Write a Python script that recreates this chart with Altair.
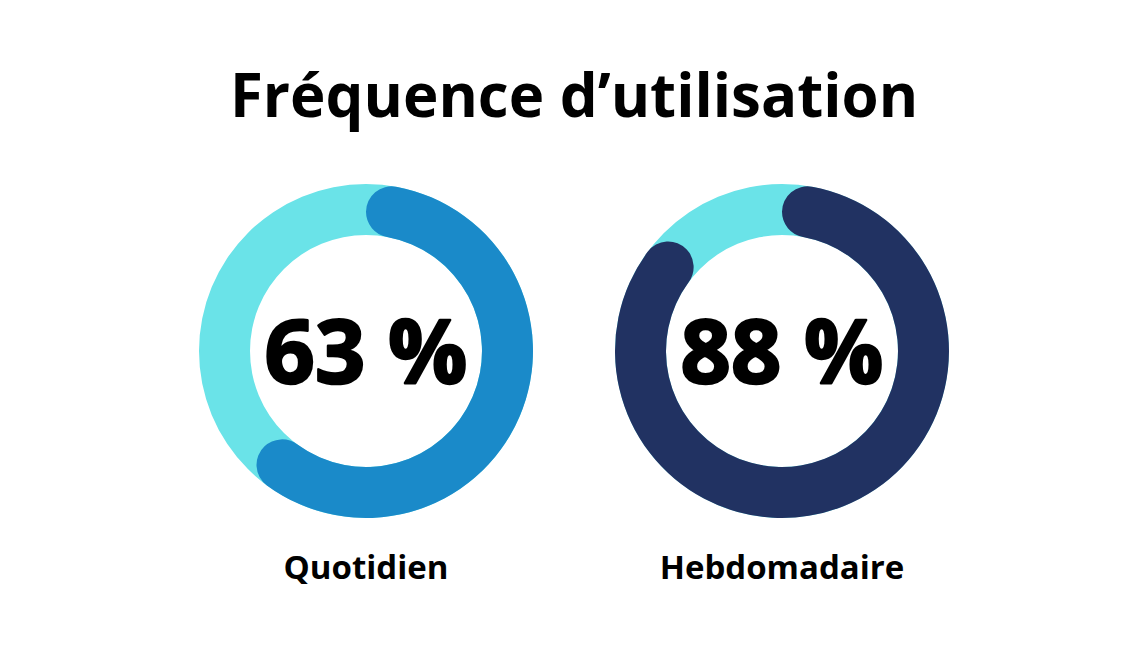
import altair as alt
import pandas as pd

# ---- data ----
categories = ["Quotidien", "Hebdomadaire"]
shares = [0.63, 0.88]
share_labels = ["63 %", "88 %"]
arc_colors = ["#1a8ac9", "#213262"]
track_color = "#6ae3e8"
title_text = "Fréquence d’utilisation"

df = pd.DataFrame({
    "cat": categories,
    "start": [0.0] * len(categories),
    "end_full": [1.0] * len(categories),
    "share": shares,
    "label": share_labels,
})

W, H = 1148, 646
x_enc = alt.X("cat:N", scale=alt.Scale(type="point", domain=categories, range=[366, 782], padding=0), axis=None)
theta_scale = alt.Scale(domain=[0, 1], range=[0, 6.283185307179586])

base = alt.Chart(df)

track = base.mark_arc(innerRadius=116, outerRadius=167, color=track_color).encode(
    x=x_enc,
    y=alt.value(351),
    theta=alt.Theta("start:Q", scale=theta_scale, stack=None),
    theta2="end_full:Q",
)

progress = base.mark_arc(innerRadius=116, outerRadius=167, cornerRadius=25.5).encode(
    x=x_enc,
    y=alt.value(351),
    theta=alt.Theta("start:Q", scale=theta_scale, stack=None),
    theta2="share:Q",
    color=alt.Color("cat:N", scale=alt.Scale(domain=categories, range=arc_colors), legend=None),
)

pct = base.mark_text(
    font="Open Sans", fontWeight="bold", fontSize=88, color="#000000",
    stroke="#000000", strokeWidth=2.5, strokeJoin="round",
    align="center", baseline="alphabetic",
).encode(x=x_enc, y=alt.value(383), text="label:N")

names = base.mark_text(
    font="Open Sans", fontWeight="bold", fontSize=33, color="#000000",
    align="center", baseline="alphabetic",
).encode(x=x_enc, y=alt.value(579), text="cat:N")

title = alt.Chart(pd.DataFrame({"t": [title_text]})).mark_text(
    font="Open Sans", fontWeight="bold", fontSize=60, color="#000000",
    align="center", baseline="alphabetic",
).encode(x=alt.value(W / 2), y=alt.value(117), text="t:N")

chart = alt.layer(track, progress, pct, names, title).properties(
    width=W, height=H, padding=0, autosize=alt.AutoSizeParams(type="none"),
    background="#ffffff",
).configure_view(stroke=None)

chart.save("out.html", embed_options={"renderer": "svg", "actions": False})
